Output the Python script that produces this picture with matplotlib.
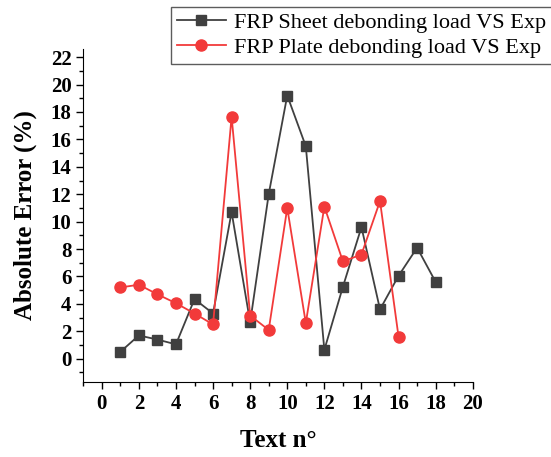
import matplotlib
matplotlib.use("Agg")
import matplotlib.pyplot as plt
from matplotlib.ticker import MultipleLocator

# absolute error of each debonding model against the tests
sheet_x = [1, 2, 3, 4, 5, 6, 7, 8, 9, 10, 11, 12, 13, 14, 15, 16, 17, 18]
sheet_err = [0.5, 1.7, 1.4, 1.05, 4.35, 3.3, 10.7, 2.65, 12.0, 19.2, 15.5, 0.65, 5.25, 9.6, 3.6, 6.05, 8.1, 5.6]
plate_x = [1, 2, 3, 4, 5, 6, 7, 8, 9, 10, 11, 12, 13, 14, 15, 16]
plate_err = [5.2, 5.4, 4.7, 4.05, 3.3, 2.5, 17.65, 3.15, 2.1, 11.0, 2.6, 11.1, 7.1, 7.6, 11.5, 1.6]

plt.rcParams['font.family'] = ['Liberation Serif', 'DejaVu Serif']

fig = plt.figure(figsize=(5.51, 4.57), dpi=100)
ax = fig.add_axes([0.151, 0.164, 0.707, 0.729])

ax.plot(sheet_x, sheet_err, color='#404040', marker='s', markersize=7, lw=1.3,
        label='FRP Sheet debonding load VS Exp')
ax.plot(plate_x, plate_err, color='#f23a3a', marker='o', markersize=8, lw=1.3,
        label='FRP Plate debonding load VS Exp')

ax.set_xlim(-1, 20)
ax.set_ylim(-1.7, 22.6)
ax.xaxis.set_major_locator(MultipleLocator(2))
ax.xaxis.set_minor_locator(MultipleLocator(1))
ax.yaxis.set_major_locator(MultipleLocator(2))
ax.yaxis.set_minor_locator(MultipleLocator(1))
for s in ['top', 'right']:
  ax.spines[s].set_visible(False)
ax.tick_params(which='major', direction='out', length=5, width=1, labelsize=15)
ax.tick_params(which='minor', direction='out', length=3, width=1)
for lbl in ax.get_xticklabels() + ax.get_yticklabels():
  lbl.set_fontweight('bold')

ax.set_xlabel('Text n°', fontsize=18, fontweight='bold', labelpad=11)
ax.set_ylabel('Absolute Error (%)', fontsize=18, fontweight='bold', labelpad=10)

leg = fig.legend(loc='upper right', bbox_to_anchor=(1.002, 0.985), fontsize=16,
                 frameon=True, fancybox=False, handlelength=2.2, borderpad=0.25,
                 labelspacing=0.2, handletextpad=0.4, borderaxespad=0)
leg.get_frame().set_edgecolor('#333333')
leg.get_frame().set_linewidth(1.0)

plt.savefig('out.png', dpi=100)
